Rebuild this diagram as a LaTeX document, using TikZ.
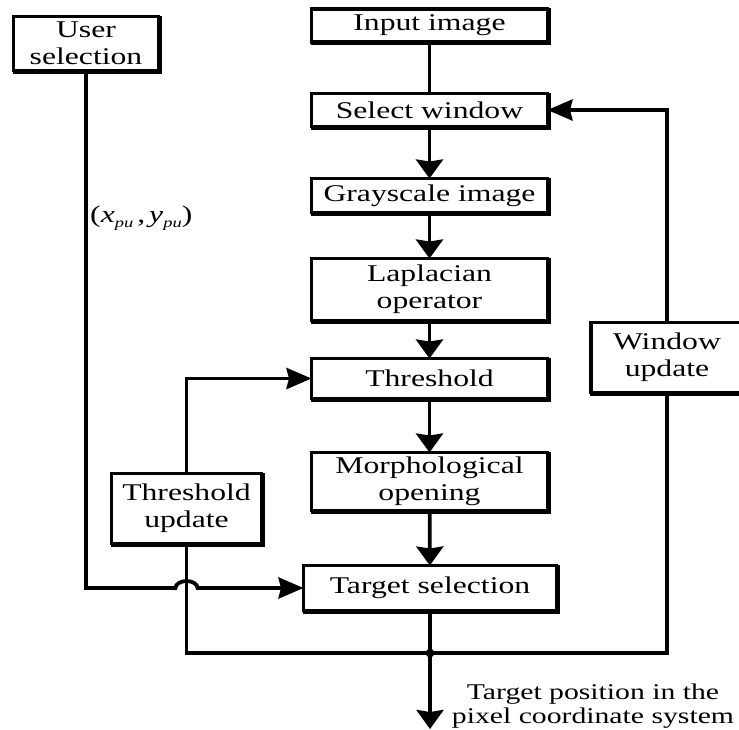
\documentclass[tikz,border=0pt]{standalone}
\usepackage{fontspec}
\setmainfont{Liberation Serif}[FakeStretch=1.32]
\usetikzlibrary{arrows.meta}

\tikzset{
  box/.style={draw, line width=3.8pt, fill=white, inner sep=0pt, outer sep=0pt,
    align=center, font=\fontsize{24}{27}\selectfont,
    preaction={draw, line width=3.8pt, transform canvas={shift={(1.3pt,-1.3pt)}}}},
  wire/.style={line width=3.8pt},
  varrow/.style={wire, -{Stealth[length=19pt, width=27pt, inset=2pt]}},
  harrow/.style={wire, -{Stealth[length=25pt, width=21pt, inset=2.5pt]}},
  lbl/.style={align=center, font=\fontsize{24}{25}\selectfont, inner sep=0pt}
}

\begin{document}
\begin{tikzpicture}[x=1pt, y=-1pt]
  \clip (0,0) rectangle (739,729);
  \fill[white] (0,0) rectangle (739,729);

  % main processing chain
  \node[box, minimum width=236pt, minimum height=33pt] (input)  at (429.5,25.5)  {Input image};
  \node[box, minimum width=236pt, minimum height=33pt] (select) at (429.5,110)   {Select window};
  \node[box, minimum width=236pt, minimum height=34pt] (gray)   at (429.5,195.5) {Grayscale image};
  \node[box, minimum width=236pt, minimum height=62pt] (lap)    at (429.5,289.5) {Laplacian\\operator};
  \node[box, minimum width=236pt, minimum height=40pt] (thr)    at (429.5,378.5) {Threshold};
  \node[box, minimum width=236pt, minimum height=58pt] (morph)  at (429.5,481.5) {Morphological\\opening};
  \node[box, minimum width=253pt, minimum height=45pt] (target) at (430,588)     {Target selection};

  % side boxes
  \node[box, minimum width=145pt, minimum height=54pt] (user)   at (86,43.5)    {User\\selection};
  \node[box, minimum width=150pt, minimum height=70pt] (thrupd) at (186.5,508.5) {Threshold\\update};
  \node[box, minimum width=152pt, minimum height=70pt] (winupd) at (667,357.5)   {Window\\update};

  % junction and output
  \coordinate (bus) at (430,653);
  \coordinate (out) at (430,729);
  \coordinate (jump) at (thrupd.south |- target.west);

  \draw[wire]   (input) -- (select);
  \draw[varrow] (select) -- (gray);
  \draw[varrow] (gray) -- (lap);
  \draw[varrow] (lap) -- (thr);
  \draw[varrow] (thr) -- (morph);
  \draw[varrow] (morph) -- (target);
  \draw[varrow] (target) -- (out);

  % user input, hopping over the threshold feedback line
  \draw[harrow] (user.south) |- ([xshift=-11pt]jump)
    arc[start angle=180, end angle=0, x radius=11pt, y radius=7pt]
    -- (target.west);

  % feedback loops
  \draw[wire] (thrupd.south) |- (bus) -| (winupd.south);
  \draw[harrow] (thrupd.north) |- (thr.west);
  \draw[harrow] (winupd.north) |- (select.east);
  \fill (bus) circle (4.4pt);

  % labels
  \node[lbl, anchor=west] (coord) at (90,218)
    {(\textit{x}\raisebox{-0.5ex}{\fontsize{14}{14}\selectfont\textit{pu}}\,,\,\textit{y}\raisebox{-0.5ex}{\fontsize{14}{14}\selectfont\textit{pu}})};
  \node[lbl, font=\fontsize{22.5}{24.5}\selectfont] (result) at (593,706)
    {Target position in the\\pixel coordinate system};
\end{tikzpicture}
\end{document}
